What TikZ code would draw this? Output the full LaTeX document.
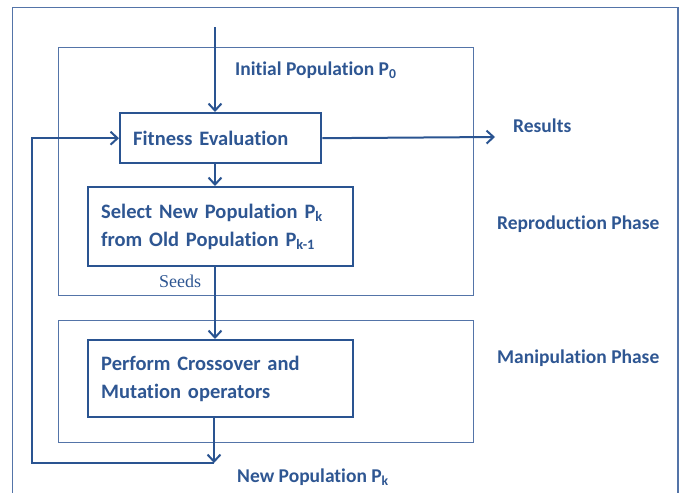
\documentclass[tikz,border=0pt]{standalone}
\usepackage{fontspec}
\setmainfont[Ligatures=NoCommon]{Carlito}
\newfontfamily\seedfont{Liberation Serif}
\usetikzlibrary{arrows.meta}
\definecolor{gablue}{RGB}{42,84,145}
\definecolor{gatext}{RGB}{46,86,146}
\definecolor{gaframe}{RGB}{84,116,168}
\tikzset{
	stepbox/.style={draw=gablue, line width=2.4pt, inner xsep=13pt, align=left, anchor=north west,
		font=\fontsize{20.5}{28}\selectfont\bfseries, text=gatext},
	phasebox/.style={draw=gaframe, line width=1pt},
	flow/.style={draw=gablue, line width=2pt, -{Straight Barb[length=7pt,width=13pt,line width=2pt]}},
	lbl/.style={anchor=west, inner sep=0pt, text=gatext, font=\fontsize{19.5}{22}\selectfont\bfseries}
}

\begin{document}
\begin{tikzpicture}[x=1pt, y=-1pt]
	%%%%% START %%%%%
	\useasboundingbox (0,0) rectangle (686,493);
	
	% outer frame, open at the bottom
	\draw[draw=gaframe, line width=1.6pt] (12.5,493) -- (12.5,7.5) -- (678,7.5) -- (678,493);
	
	% phases
	\draw[phasebox] (58,47) rectangle (473,295);
	\draw[phasebox] (58,320) rectangle (473,442);
	
	% steps
	\node[stepbox, minimum width=201pt, minimum height=50pt, text width=175pt] (fitness) at (119,112) {Fitness Evaluation};
	\node[stepbox, minimum width=265pt, minimum height=79pt, text width=239pt] (select) at (87,186)
		{Select New Population P\textsubscript{k}\\from Old Population P\textsubscript{k-1}};
	\node[stepbox, minimum width=265pt, minimum height=77pt, text width=239pt] (perform) at (87,339)
		{Perform Crossover and\\Mutation operators};
	
	% labels
	\node[lbl] (initial) at (235,70) {Initial Population P\textsubscript{0}};
	\node[lbl] (results) at (513,126) {Results};
	\node[lbl] (repro) at (497,224) {Reproduction Phase};
	\node[lbl] (manip) at (497,358) {Manipulation Phase};
	\node[lbl] (newpoplbl) at (237,477) {New Population P\textsubscript{k}};
	\node[anchor=west, inner sep=0pt, text=gatext, font=\seedfont\fontsize{18}{20}\selectfont] (seeds) at (159,281) {Seeds};
	
	\coordinate (start) at (215,27);
	\coordinate (res) at (495,137);
	\coordinate (newpop) at (214,463);
	\coordinate (loop) at (32,463);
	
	% flow
	\draw[flow] (start) -- (start |- fitness.north);
	\draw[flow] (fitness.south -| start) -- (select.north -| start);
	\draw[flow] (select.south -| start) -- (perform.north -| start);
	\draw[flow] (perform.south -| newpop) -- (newpop);
	\draw[flow] (fitness.east) -- (res);
	\draw[flow] (newpop) -- (loop) |- (fitness.west);
	
	%%%%% END %%%%%
\end{tikzpicture}
\end{document}
